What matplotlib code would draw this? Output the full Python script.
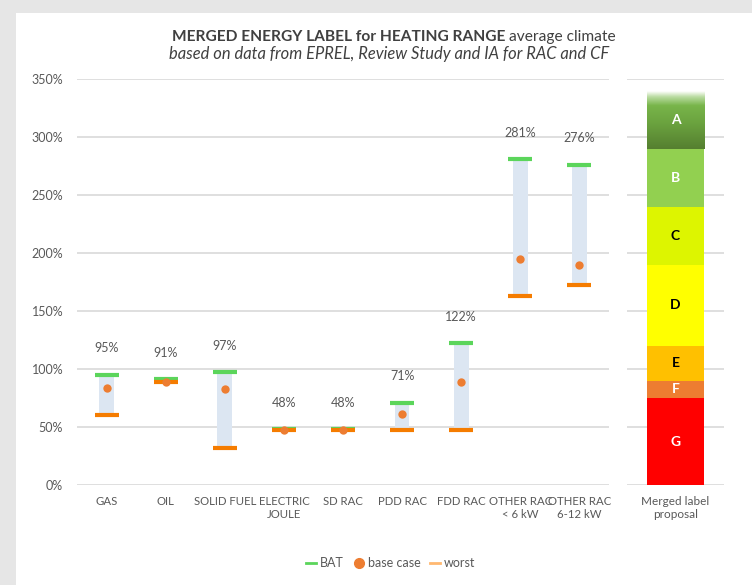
import matplotlib
matplotlib.use("Agg")
import matplotlib.pyplot as plt
import numpy as np
from matplotlib.patches import Rectangle
from matplotlib.colors import LinearSegmentedColormap
from matplotlib.lines import Line2D

# ---- data ----
categories = ["GAS", "OIL", "SOLID FUEL", "ELECTRIC\nJOULE", "SD RAC", "PDD RAC",
              "FDD RAC", "OTHER RAC\n< 6 kW", "OTHER RAC\n6-12 kW"]
bat = [95, 91, 97, 48, 48, 71, 122, 281, 276]
base_case = [84, 89, 83, 47, 47, 61, 89, 195, 190]
worst = [60, 89, 32, 47, 47, 47, 47, 163, 172]

label_letters = ["G", "F", "E", "D", "C", "B", "A"]
label_lower = [0, 75, 90, 120, 190, 240, 290]
label_upper = [75, 90, 120, 190, 240, 290, 340]
label_colors = ["#FF0000", "#ED7D31", "#FFC000", "#FFFF00", "#DDF500", "#92D050", "#5E8F36"]
label_text_colors = ["white", "white", "black", "black", "black", "white", "white"]

yticks = [0, 50, 100, 150, 200, 250, 300, 350]

plt.rcParams['font.family'] = ['Lato', 'DejaVu Sans']

W, H = 752, 585
fig = plt.figure(figsize=(W / 100, H / 100), dpi=100)
fig.patch.set_facecolor("#e6e6e6")
fig.add_artist(Rectangle((16 / W, 0), 1, (H - 13) / H, transform=fig.transFigure,
                         facecolor="white", edgecolor="none", zorder=0))

def box(x0, y0, x1, y1):
    return [x0 / W, 1 - y1 / H, (x1 - x0) / W, (y1 - y0) / H]

grid_c = "#d9d9d9"
txt_c = "#595959"

# ---- main axes ----
ax = fig.add_axes(box(77, 79, 609, 485))
x = np.arange(len(categories))
ax.set_xlim(-0.5, len(categories) - 0.5)
ax.set_ylim(0, 350)
ax.set_yticks(yticks)
ax.set_yticklabels([f"{v}%" for v in yticks])
ax.yaxis.grid(True, color=grid_c, lw=1.2)
ax.set_axisbelow(True)
for s in ax.spines.values():
    s.set_visible(False)
ax.tick_params(axis='y', length=0, labelsize=9, labelcolor=txt_c, pad=10)
ax.set_xticks(x)
ax.set_xticklabels(categories, fontsize=8.2, color=txt_c)
ax.tick_params(axis='x', length=0, pad=8)
ax.patch.set_alpha(0)

bat_a = np.array(bat)
worst_a = np.array(worst)
ax.bar(x, bat_a - worst_a, bottom=worst_a, width=0.25, color="#DCE6F2", zorder=2)
ax.plot(x, bat, ls="none", marker="_", ms=17.5, mew=3.0, color="#5BD55B", zorder=3)
ax.plot(x, worst, ls="none", marker="_", ms=17.5, mew=3.0, color="#F57C00", zorder=4)
ax.plot(x, base_case, ls="none", marker="o", ms=6, color="#ED7D31", mec="none", zorder=5)

for xi, v in zip(x, bat):
    ax.annotate(f"{v}%", (xi, v), xytext=(0, 19), textcoords="offset points",
                ha="center", va="center", fontsize=9, color=txt_c)

# ---- label axes ----
ax2 = fig.add_axes(box(627, 79, 724, 485))
ax2.set_xlim(-0.5, 0.5)
ax2.set_ylim(0, 350)
ax2.set_yticks(yticks)
ax2.set_yticklabels([])
ax2.yaxis.grid(True, color=grid_c, lw=1.2)
ax2.set_axisbelow(True)
for s in ax2.spines.values():
    s.set_visible(False)
ax2.tick_params(length=0)
ax2.set_xticks([0])
ax2.set_xticklabels(["Merged label\nproposal"], fontsize=8.5, color=txt_c)
ax2.tick_params(axis='x', pad=8)
ax2.patch.set_alpha(0)

lo = np.array(label_lower)
hi = np.array(label_upper)
bars = ax2.bar(0, hi - lo, bottom=lo, width=0.59, color=label_colors, zorder=2)
# gradient for top class
topbar = bars[-1]
cmap = LinearSegmentedColormap.from_list(
    "a", [(0, "#557F30"), (0.45, "#6BA33F"), (0.75, "#78B54A"), (0.9, "#B9DBA0"), (1.0, "#FFFFFF")])
grad = np.linspace(0, 1, 256).reshape(-1, 1)
im = ax2.imshow(grad, cmap=cmap, origin="lower", aspect="auto",
                extent=(-0.295, 0.295, label_lower[-1], label_upper[-1]), zorder=3)
im.set_clip_path(topbar)
ax2.set_xlim(-0.5, 0.5)
ax2.set_ylim(0, 350)

for letter, l, h, tc in zip(label_letters, label_lower, label_upper, label_text_colors):
    ax2.text(0, (l + h) / 2, letter, ha="center", va="center", fontsize=10,
             fontweight="bold", color=tc, zorder=4)

# ---- titles ----
fig.text(505 / W, 1 - 37 / H, "MERGED ENERGY LABEL for HEATING RANGE", ha="right", va="center",
         fontsize=11.2, fontweight="bold", color="#404040")
fig.text(509 / W, 1 - 37 / H, "average climate", ha="left", va="center",
         fontsize=11.2, color="#404040")
fig.text(389 / W, 1 - 54 / H, "based on data from EPREL, Review Study and IA for RAC and CF",
         ha="center", va="center", fontsize=11.9, style="italic", color="#404040")

# ---- legend ----
handles = [
    Line2D([], [], color="#5BD55B", lw=2, label="BAT"),
    Line2D([], [], ls="none", marker="o", ms=7, color="#ED7D31", label="base case"),
    Line2D([], [], color="#FFB870", lw=2, label="worst"),
]
fig.legend(handles=handles, loc="center", bbox_to_anchor=(391 / W, 1 - 563 / H), ncol=3,
           frameon=False, fontsize=9, handlelength=0.8, handletextpad=0.3,
           columnspacing=0.8, labelcolor=txt_c)

fig.savefig("out.png", dpi=100, facecolor=fig.get_facecolor())
